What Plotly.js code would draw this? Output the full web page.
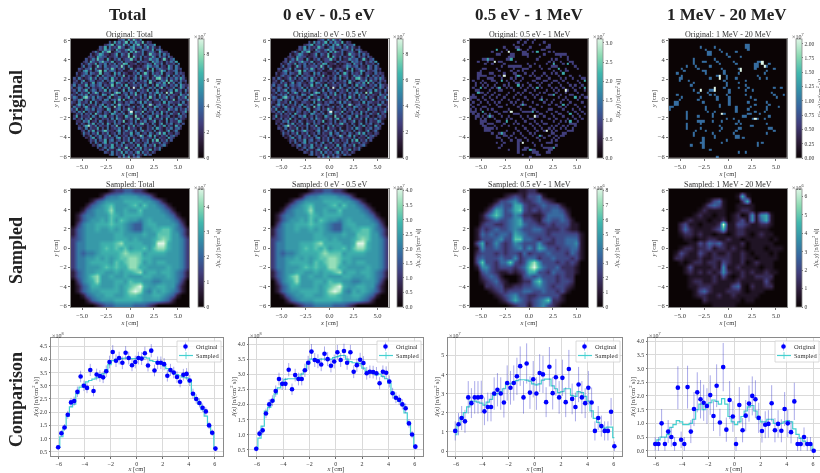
<!DOCTYPE html>
<html><head><meta charset="utf-8">
<script src="https://cdn.plot.ly/plotly-3.0.1.min.js"></script>
<style>html,body{margin:0;padding:0;background:#fff;overflow:hidden}#chart{filter:blur(0.45px)}</style></head>
<body><div id="chart" style="width:820px;height:473px"></div>
<script>
const columnTitles = ["Total","0 eV - 0.5 eV","0.5 eV - 1 MeV","1 MeV - 20 MeV"];
const rowTitles = ["Original","Sampled","Comparison"];
const binCenters = [-6.05,-5.80,-5.56,-5.31,-5.06,-4.82,-4.57,-4.32,-4.07,-3.83,-3.58,-3.33,-3.09,-2.84,-2.59,-2.35,-2.10,-1.85,-1.60,-1.36,-1.11,-0.86,-0.62,-0.37,-0.12,0.12,0.37,0.62,0.86,1.11,1.36,1.60,1.85,2.10,2.35,2.59,2.84,3.09,3.33,3.58,3.83,4.07,4.32,4.57,4.82,5.06,5.31,5.56,5.80,6.05];
const coarseCenters = [-5.93,-5.43,-4.94,-4.45,-3.95,-3.46,-2.96,-2.47,-1.98,-1.48,-0.99,-0.49,0,0.49,0.99,1.48,1.98,2.47,2.96,3.46,3.95,4.45,4.94,5.43,5.93];

// Original maps: digits per cell, rows run from y=+6 to y=-6, centred in the disc
const originalTotalRows = [
"2341526324",
"315242361425326132",
"2346133252415362142335",
"32514232633124523413524213",
"1325342153224635212433251342",
"24215363123422315263241234215322",
"3123542212351432613322412533241423",
"232154331223413225163241322531423142",
"31242633152132412336231412253341262134",
"2315322413325122413321142332153423132425",
"312432513241324132651223121243153241322314",
"241331263142233421314211212354234132153142",
"32133514221342631324115123322415134322531423",
"21452313421523431231122241431325123641323412",
"3123414322613321524132113241263142325133214232",
"2134233125142332413261322415233125342135142313",
"314212352413243152314223134251241326132413242531",
"231351243122413263124231324132415231243615231423",
"321423125134221341542213241322316213425132413412",
"24132251342341322613241512332414213152342132415322",
"31243124132235141322413251321531242413613224125313",
"23142351243132514233125143214232513141221341523142",
"12413225136413223142513314251332142352413261224131",
"32134241322315412633122413262314132415231423215324",
"24312513241432135122421351322413162314235132142351",
"13245132142231441342615123241322512341423126133224",
"32142231514213322151321324313514231223151432231412",
"21352413224135132412632341121341263134222413155232",
"14231352132241532132413122413251321542312341323113",
"32512143241332154123413263212314132413221532413242",
"23142513221431324153142132143261324131524213212351",
"132413241632132154232413513241321423251314225132",
"251322314214351231422153213224134215132341213423",
"312413261321323141532132413612325132241513241321",
"2214351231421322413261231413241235132141322541",
"3132142513241531423113241325123142135132412313",
"21351324132241326124132513221321413251321523",
"32141322513141232413152321411324153213241342",
"231425132413221351242314135232141321351241",
"142313251324123141322513412314213625132132",
"3124132413251341223142132413515213241342",
"21351241322314513241321342231413221532",
"132413251341231324152313241526132413",
"3142135132241351241322134132241321",
"21341322513241322315124132512341",
"3124135213224131425132213241",
"23142213513241322413251324",
"3214132514231351423132",
"241322513241321423",
"3142513241"];
const originalTotalHot = [[20,26,9],[30,25,9],[22,40,8],[36,7,8],[32,27,7],[5,16,7],[7,24,7],[22,19,7],[9,13,6],[13,12,7],[16,37,7],[40,29,7],[27,33,7],[24,6,7],[11,21,7],[45,23,6],[18,41,7],[12,32,6],[28,18,7],[35,30,6],[6,33,6],[38,14,6]];
const totalLevels = [0,1.0,2.1,3.2,4.5,5.9,6.9,7.5,8.2,9.2];
const thermalLevels = [0,0.9,1.9,2.9,4.0,5.3,6.3,7.0,7.9,9.15];

// 0.5 eV - 1 MeV original map: "row: columns" per count level
const midOneCount = [
"0: 21 24 27","1: 20 23 26 31","2: 18 22 29 33","3: 14 19 20 25 32 33","4: 15 21 24 30 31","5: 9 13 22 23 26 33 35",
"6: 11 12 17 18 22 23 24 31 36 37 38 39 40","7: 16 17 18 24 29 38 41","8: 5 6 8 9 15 16 28 34 36 41","9: 3 7 12 13 19 33 35 38 42 43",
"10: 6 9 14 24 27 32 39 43","11: 13 16 17 18 19 20 21 25 29 34 35 36 44","12: 5 6 11 18 22 23 24 30 33 37 40 45","13: 4 12 17 20 22 27 35 38 40 41",
"14: 3 4 8 9 14 18 19 23 26 31 34 36","15: 3 4 5 6 10 12 19 21 25 27 30 32 37 42 46","16: 3 7 8 9 13 17 19 22 28 29 33 38 40 43 47 48","17: 1 5 9 10 15 18 21 26 27 31 32 35 36 39 45",
"18: 2 4 6 11 16 19 20 24 28 30 34 37 41 46","19: 2 5 7 10 14 16 22 25 29 33 38 42 44 47","20: 1 6 9 11 15 17 21 24 26 30 34 36 39 43 46","21: 2 3 8 12 13 18 23 27 32 35 37 41 44 48",
"22: 4 5 7 10 16 20 22 25 29 31 36 40 45","23: 1 6 9 12 15 19 21 26 28 33 34 38 42 43 47","24: 0 1 2 5 8 11 14 18 23 27 30 37 40 46 48 49","25: 0 3 6 9 13 16 20 24 29 32 35 39 41 45",
"26: 1 4 7 10 12 17 19 22 26 31 34 38 42 47","27: 0 3 8 11 15 18 21 23 28 33 36 41 44","28: 1 5 6 12 13 20 25 30 37 38 40 45 48","29: 0 2 4 7 9 16 21 26 27 33 34 39 43 46",
"30: 0 1 2 10 11 14 15 22 23 24 25 28 32 36 41 44 47","31: 1 3 6 8 12 18 19 20 29 30 34 37 38 45 48","32: 2 3 5 7 9 13 16 21 24 28 31 35 39 43 46","33: 2 4 6 10 15 17 22 25 26 33 36 41 44 47",
"34: 4 5 6 11 12 19 23 27 30 35 38 40 45","35: 4 5 7 8 9 14 18 20 25 28 31 32 37 42 43 44","36: 5 6 10 13 16 22 26 29 34 36 39 41 44","37: 6 7 8 9 11 19 23 27 30 33 35 38 40 43",
"38: 6 7 8 15 20 24 28 31 34 36 41 42 43","39: 9 12 13 14 18 21 25 27 34 35 39 40","40: 11 14 15 17 22 26 30 33 36 38 39","41: 11 12 16 19 23 28 31 35 37",
"42: 13 17 20 21 24 29 34 36","43: 11 14 20 26 32 33 34","44: 13 20 27 30 36","45: 12 20 23 24 31 32 33 34","46: 16 20 22 23 25 26 27 33 34","47: 20 26 27 28 32 33","48: 22 28 29","49: 25"];
const midTwoCount = ["4: 11 20","5: 28","8: 7 17","10: 35 41","12: 37","14: 39","15: 20","17: 13 48","19: 20","20: 4 12 28 48","22: 3","23: 35","24: 44","25: 30","27: 22 39","30: 5 26","31: 42","32: 8","34: 15 42","39: 13","40: 29","45: 35","46: 25"];
const midThreeCount = ["5: 16","9: 10","15: 14","21: 40","30: 17","32: 27","38: 32","43: 22"];

// 1 MeV - 20 MeV original map
const fastOneCount = [
"2: 32 33","3: 13 19 32 33","4: 15 21 33","5: 16 17 22 28","6: 16 17 24","7: 25 30","8: 10 19","9: 10 14 15 20 27 37 38","10: 10 21 28 36 37 42",
"11: 7 11 17 36 37 41","12: 5 12 22 29 36 44","13: 6 14 15 23 41","14: 3 15 23 29 40","15: 5 20 24 37","16: 4 5 17 24 28 38 41",
"17: 4 8 23 32","18: 10 24 29","19: 9 24 32","20: 23 29 33 44 47","21: 10 17 18 25 32 35","22: 12 16 25 43","23: 3 17 19 24 32 44 48",
"24: 5 13 20 25 34 45","25: 4 12 20 25 36","26: 2 3 14 25 33 41","27: 2 3 21 25 36 42","28: 0 1 15 21 28 34 41 46","29: 0 15 28 33 41",
"30: 7 16 19 28 36 40","31: 7 18 23 33 34 38","32: 7 12 18 31 32 42","33: 7 24 27 35 37 40","34: 12 13 14 18 22 29","35: 7 13 28 30 41",
"36: 7 21 34 35","37: 7 13 22 29 30 42 43","38: 11 15 21 28 44","39: 10 18 27 41","40: 10 19 28 29","41: 14 19 28 29 31","42: 14 24","43: 13 14 22 37 39",
"44: 9 14 37","45: 14","46: 17","47: 29 32","49: 20"];
const fastTwoCount = ["9: 39","10: 39","11: 40","12: 30","13: 30","15: 21","16: 21","20: 19","21: 13 19","31: 22","33: 36"];

// Sampled maps: digits per cell on a 25 x 25 grid
const sampledTotalRows = [
"0000000012233221000000000",
"0000001344555544310000000",
"0000134555566665543100000",
"0001345675556757554310000",
"0013455685565575555431000",
"0134455576566665555543100",
"0134556575765545655554310",
"0245566676654335665555420",
"1345565565654335566775431",
"1345555556655556557775531",
"2345555556665655567875542",
"2445556667866665569965542",
"2445556767675667578865542",
"2434456666787775666655542",
"2445565656778876655555542",
"2445666657678875656655542",
"2445556767668866555565542",
"1345566556566785665665431",
"1345785565565556655565431",
"0245685556657665544555420",
"0134665556567896556655310",
"0134556666568985465654310",
"0013455665567765566543100",
"0001345556666665555431000",
"0000012334444333210000000"];
const sampledTotalLevels = [0,0.7,1.3,1.9,2.4,2.85,3.2,3.6,4.1,4.7];
const sampledThermalLevels = [0,0.6,1.1,1.6,2.05,2.45,2.75,3.1,3.55,4.05];
const sampledMidRows = [
"0000000000112200000000000",
"0000000123213341000000000",
"0000013345322343210000000",
"0000134336632234333100000",
"0001365346732323344310000",
"0013575335422112444420000",
"0012343345633213433431000",
"0023322345643322323331100",
"0132343345433443222321100",
"0143434436543333233333310",
"0133345337744323323344410",
"0362353235433353223344510",
"0153343234535365332334410",
"0233323233242333433324310",
"0343334335234423343332310",
"0373324473236853332323200",
"0155323332347964334222100",
"0034321121236633243322100",
"0023431000134343332322000",
"0012342100122574332332000",
"0002233112233454323321000",
"0000123233344334332310000",
"0000012345332233333100000",
"0000001246432345722100000",
"0000000012331345321000000"];
const sampledMidLevels = [0,0.9,1.8,2.7,3.6,4.5,5.4,6.3,7.2,8.1];
const sampledFastRows = [
"0000000000000000000000000",
"0000000000000016100000000",
"0000000013410002600000000",
"0000000134310011110000000",
"0000001211110012210000000",
"0000012110110120151561000",
"0001211101120123151461000",
"0023110111291133211221000",
"0024211112361122111110000",
"0012212110110122101211000",
"0001101122112110111110100",
"0000113243421112011111000",
"0012212231221211011101110",
"0132113212112112101110100",
"0221112112222112110111100",
"0010122122132112012111000",
"0001311112151121111011000",
"0001212121252112121121100",
"0000111112131012112222000",
"0000122112111121111131000",
"0000112221111341021122000",
"0000013421112221011100000",
"0000012211211211111000000",
"0000000211111110110000000",
"0000000001111100000000000"];
const sampledFastLevels = [0,0.55,1.3,2.1,2.8,3.5,4.2,4.9,5.6,6.4];

// Comparison profiles (axis mantissa)
const origTotal = [0.67,1.2,1.42,1.9,2.37,2.42,2.77,3.35,3.0,2.92,3.6,2.8,3.43,3.37,3.32,3.55,3.9,4.28,3.95,4.05,3.87,4.25,4.05,3.78,3.9,4.05,4.03,4.23,3.77,4.33,3.58,3.87,3.87,3.82,3.38,3.6,3.5,3.33,3.15,3.42,3.45,3.2,2.7,2.5,2.35,2.17,2.03,1.5,1.22,0.62];
const errTotal = [0.09,0.12,0.13,0.15,0.17,0.17,0.2,0.22,0.2,0.2,0.23,0.2,0.22,0.22,0.22,0.22,0.24,0.26,0.24,0.24,0.24,0.25,0.24,0.23,0.24,0.24,0.24,0.25,0.23,0.25,0.22,0.24,0.24,0.23,0.22,0.23,0.22,0.22,0.21,0.22,0.22,0.21,0.19,0.18,0.17,0.16,0.16,0.14,0.12,0.09];
const sampTotal = [0.67,1.07,1.4,1.85,2.2,2.3,2.7,2.95,3.05,3.15,3.2,3.25,3.3,3.35,3.45,3.6,3.8,3.95,4.0,4.0,4.03,4.05,4.05,4.03,4.03,4.03,4.05,4.08,4.05,3.95,3.92,3.88,3.85,3.75,3.65,3.55,3.5,3.42,3.38,3.33,3.3,3.15,2.72,2.5,2.3,2.1,1.85,1.5,1.2,0.62];
const origThermal = [0.53,1.03,1.14,1.7,2.0,2.12,2.44,2.84,2.68,2.68,3.15,2.5,2.97,2.84,2.84,3.13,3.38,3.75,3.47,3.43,3.32,3.68,3.5,3.28,3.42,3.73,3.47,3.77,3.38,3.73,3.08,3.3,3.48,3.37,3.03,3.08,3.07,3.03,2.7,3.08,3.05,2.76,2.37,2.22,2.15,2.0,1.87,1.37,1.0,0.6];
const errThermal = [0.09,0.12,0.13,0.16,0.17,0.18,0.19,0.21,0.2,0.2,0.22,0.19,0.21,0.21,0.21,0.22,0.23,0.25,0.23,0.23,0.22,0.24,0.23,0.22,0.23,0.24,0.23,0.24,0.23,0.24,0.21,0.22,0.23,0.23,0.21,0.21,0.21,0.21,0.2,0.21,0.21,0.2,0.18,0.18,0.17,0.17,0.16,0.14,0.12,0.09];
const sampThermal = [0.55,0.88,1.28,1.78,1.9,2.1,2.35,2.55,2.7,2.83,2.85,2.85,2.85,2.9,3.0,3.15,3.35,3.5,3.5,3.48,3.5,3.5,3.48,3.5,3.55,3.58,3.62,3.62,3.5,3.42,3.38,3.38,3.35,3.2,3.1,3.05,3.03,2.98,3.0,2.93,2.85,2.7,2.4,2.2,2.1,2.0,1.72,1.4,1.0,0.6];
const origMid = [1.05,1.4,1.72,1.55,2.8,2.5,2.8,2.8,2.82,2.07,2.3,2.3,3.0,3.2,3.0,2.53,3.55,3.3,3.55,3.9,4.43,2.8,4.57,3.05,3.75,3.0,4.07,4.0,2.55,4.4,3.02,3.85,2.8,3.82,2.55,4.28,2.72,2.3,3.47,2.8,2.5,3.3,2.53,1.05,1.72,1.3,1.05,1.05,2.05,0.25];
const errMid = [0.5,0.58,0.63,0.6,0.85,0.78,0.85,0.85,0.85,0.72,0.75,0.75,0.85,0.87,0.85,0.78,0.92,0.88,0.92,0.97,1.03,0.85,1.05,0.85,0.95,0.85,0.98,0.97,0.78,1.03,0.85,0.96,0.85,0.95,0.78,1.0,0.8,0.75,0.92,0.85,0.78,0.88,0.78,0.5,0.63,0.55,0.5,0.5,0.72,0.25];
const sampMid = [0.85,1.35,1.75,2.0,2.3,2.6,2.6,2.55,2.5,2.4,2.55,2.7,2.9,3.0,3.1,3.25,3.5,3.5,3.6,3.68,3.72,3.72,3.7,3.65,3.5,3.45,3.5,3.7,3.75,3.75,3.4,3.25,3.05,3.1,3.25,3.25,2.9,2.85,3.1,3.05,2.85,2.6,2.1,1.7,1.5,1.3,1.2,1.25,1.25,0.7];
const origFast = [0.25,0.25,1.0,0.25,0.7,0.5,0.25,2.3,0.4,0.25,2.32,0.7,1.52,2.13,1.88,1.75,1.63,2.03,1.27,2.37,1.03,3.05,0.77,1.85,1.25,0.25,1.67,0.75,1.28,1.72,2.0,1.88,1.2,0.72,0.95,0.98,1.73,0.75,0.98,0.73,1.52,1.0,0.68,1.8,0.25,0.25,0.5,0.25,0.25,0.0];
const errFast = [0.25,0.25,0.52,0.25,0.42,0.35,0.25,0.78,0.3,0.25,0.78,0.42,0.62,0.73,0.7,0.66,0.65,0.72,0.55,0.78,0.5,0.88,0.44,0.69,0.56,0.25,0.65,0.44,0.57,0.66,0.71,0.69,0.55,0.42,0.49,0.5,0.66,0.44,0.5,0.42,0.62,0.5,0.41,0.68,0.25,0.25,0.35,0.25,0.25,0.0];
const sampFast = [0.3,0.4,0.5,0.5,0.6,0.85,0.95,1.1,1.05,0.95,0.95,1.0,1.15,1.5,1.7,1.5,1.7,1.75,1.85,1.8,1.7,1.9,1.7,1.25,1.05,0.95,1.05,1.25,1.45,1.6,1.65,1.45,1.15,1.05,1.05,1.15,1.15,1.0,0.95,1.0,1.05,1.1,1.05,0.8,0.6,0.45,0.35,0.25,0.2,0.05];

// ---- decoding helpers ----
function decodeCentred(rows, hot, levels){
  const g = rows.map(r=>{const a=new Array(50).fill(0);const p=Math.floor((50-r.length)/2);
    for(let i=0;i<r.length;i++)a[p+i]=levels[+r[i]];return a;});
  hot.forEach(h=>{g[h[0]][h[1]]=levels[h[2]];});
  return g.reverse();
}
function decodeSparse(lists){
  const g=[];for(let i=0;i<50;i++)g.push(new Array(50).fill(0));
  lists.forEach(l=>l.rows.forEach(s=>{const[r,c]=s.split(":");
    c.trim().split(/\s+/).forEach(k=>{g[+r][+k]=l.value;});}));
  return g.reverse();
}
function decodeGrid(rows, levels){
  return rows.map(r=>r.padEnd(25,"0").split("").map(d=>levels[+d])).reverse();
}
const mako=[[0,"#0B0405"],[0.143,"#2e1e3b"],[0.286,"#413d7b"],[0.429,"#37659e"],[0.571,"#348fa7"],[0.714,"#40b7ad"],[0.857,"#8bdab2"],[1,"#DEF5E5"]];

const serif="'Liberation Serif','DejaVu Serif',serif";
const W=820,H=473,ink="#333",spine="#8a8a8a",sampleColor="#45d0d0";
const fx=p=>p/W, fy=p=>1-p/H;
const colX=[[71,189],[270.5,388.5],[470,588],[669,787]];
const cbX=[198,397,597,796];
const rowY=[[39,158],[189,307]];
const cmpX=[[51,223],[249,423],[448,622],[648,820]];
const cmpY=[338,456];

const heatmaps=[
 {title:"Original: Total",z:decodeCentred(originalTotalRows,originalTotalHot,totalLevels),zmax:9.2,dtick:2,fmt:"",exp:"7",x:binCenters},
 {title:"Original: 0 eV - 0.5 eV",z:decodeCentred(originalTotalRows,originalTotalHot,thermalLevels),zmax:9.15,dtick:2,fmt:"",exp:"7",x:binCenters},
 {title:"Original: 0.5 eV - 1 MeV",z:decodeSparse([{rows:midOneCount,value:0.9},{rows:midTwoCount,value:2.06},{rows:midThreeCount,value:3.1}]),zmax:3.1,dtick:0.5,fmt:".1f",exp:"7",x:binCenters},
 {title:"Original: 1 MeV - 20 MeV",z:decodeSparse([{rows:fastOneCount,value:0.95},{rows:fastTwoCount,value:2.08}]),zmax:2.08,dtick:0.25,fmt:".2f",exp:"7",x:binCenters},
 {title:"Sampled: Total",z:decodeGrid(sampledTotalRows,sampledTotalLevels),zmax:4.7,dtick:1,fmt:"",exp:"7",x:coarseCenters,smooth:true},
 {title:"Sampled: 0 eV - 0.5 eV",z:decodeGrid(sampledTotalRows,sampledThermalLevels),zmax:4.05,dtick:0.5,fmt:".1f",exp:"7",x:coarseCenters,smooth:true},
 {title:"Sampled: 0.5 eV - 1 MeV",z:decodeGrid(sampledMidRows,sampledMidLevels),zmax:8.1,dtick:1,fmt:"",exp:"6",x:coarseCenters,smooth:true},
 {title:"Sampled: 1 MeV - 20 MeV",z:decodeGrid(sampledFastRows,sampledFastLevels),zmax:6.4,dtick:1,fmt:"",exp:"6",x:coarseCenters,smooth:true}
];
const comparisons=[
 {orig:origTotal,err:errTotal,samp:sampTotal,yr:[0.34,4.81],dtick:0.5,fmt:".1f",exp:"8",legendLeft:177},
 {orig:origThermal,err:errThermal,samp:sampThermal,yr:[0.29,4.2],dtick:0.5,fmt:".1f",exp:"8",legendLeft:377},
 {orig:origMid,err:errMid,samp:sampMid,yr:[-0.26,5.9],dtick:1,fmt:"",exp:"7",legendLeft:576},
 {orig:origFast,err:errFast,samp:sampFast,yr:[-0.19,4.11],dtick:0.5,fmt:".1f",exp:"7",legendLeft:775}
];

const data=[];
const layout={width:W,height:H,autosize:false,margin:{l:0,r:0,t:0,b:0,pad:0,autoexpand:false},paper_bgcolor:"#fff",plot_bgcolor:"#fff",
  font:{family:serif,size:6,color:ink},showlegend:false,annotations:[],shapes:[]};
const tickFont={family:serif,size:6.5,color:ink};
const cbTickFont={family:serif,size:5.5,color:ink};
const ann=(text,x,y,size,extra)=>layout.annotations.push(Object.assign({text,xref:"paper",yref:"paper",x:fx(x),y:fy(y),showarrow:false,xanchor:"center",yanchor:"middle",font:{family:serif,size,color:ink}},extra||{}));
const shape=(type,x0,y0,x1,y1,style)=>layout.shapes.push(Object.assign({type,xref:"paper",yref:"paper",x0:fx(x0),x1:fx(x1),y0:fy(y0),y1:fy(y1),layer:"above"},style));

heatmaps.forEach((h,i)=>{
  const n=i+1,col=i%4,row=Math.floor(i/4);
  const X=colX[col],Y=rowY[row];
  layout["xaxis"+n]={domain:[fx(X[0]),fx(X[1])],anchor:"y"+n,range:[-6.15,6.15],tick0:0,dtick:2.5,tickformat:".1f",ticks:"outside",ticklen:2,tickwidth:0.7,tickcolor:ink,tickfont:tickFont,showgrid:false,zeroline:false,showline:true,linecolor:spine,linewidth:1,mirror:true,
    title:{text:"<i>x</i> [cm]",font:{family:serif,size:6.5,color:ink},standoff:1},automargin:false};
  layout["yaxis"+n]={domain:[fy(Y[1]),fy(Y[0])],anchor:"x"+n,range:[-6.15,6.15],tick0:0,dtick:2,ticks:"outside",ticklen:2,tickwidth:0.7,tickcolor:ink,tickfont:tickFont,showgrid:false,zeroline:false,showline:true,linecolor:spine,linewidth:1,mirror:true,
    title:{text:"<i>y</i> [cm]",font:{family:serif,size:6.5,color:ink},standoff:0},automargin:false};
  data.push({type:"heatmap",xaxis:"x"+n,yaxis:"y"+n,x:h.x,y:h.x,z:h.z,zmin:0,zmax:h.zmax,colorscale:mako,zsmooth:h.smooth?"best":false,showlegend:false,hoverinfo:"skip",
    colorbar:{x:fx(cbX[col]),xanchor:"left",xpad:0,ypad:0,y:fy((Y[0]+Y[1])/2),yanchor:"middle",len:(Y[1]-Y[0])/H,lenmode:"fraction",thickness:6,thicknessmode:"pixels",outlinecolor:spine,outlinewidth:0.8,
      tick0:0,dtick:h.dtick,tickformat:h.fmt,ticks:"outside",ticklen:1.5,tickwidth:0.7,tickcolor:ink,tickfont:cbTickFont,
      title:{text:"<i>J(x, y)</i> [n/(cm<sup>2</sup> s)]",side:"right",font:{family:serif,size:5.5,color:ink}}}});
  ann(h.title,(X[0]+X[1])/2,Y[0]-4.5,8);
  ann("×10<sup>"+h.exp+"</sup>",cbX[col]-6,Y[0]-2.5,6,{xanchor:"left"});
});

comparisons.forEach((c,i)=>{
  const n=9+i,X=cmpX[i];
  const axisCommon={ticks:"outside",ticklen:1.5,tickwidth:0.7,tickcolor:ink,tickfont:Object.assign({},tickFont,{size:6}),showgrid:true,gridcolor:"#dadada",gridwidth:1,zeroline:false,showline:true,linecolor:spine,linewidth:1,mirror:true,automargin:false};
  layout["xaxis"+n]=Object.assign({domain:[fx(X[0]),fx(X[1])],anchor:"y"+n,range:[-6.6,i==3?6.53:6.63],tick0:0,dtick:2,
    title:{text:"<i>x</i> [cm]",font:{family:serif,size:6.5,color:ink},standoff:10}},axisCommon);
  layout["yaxis"+n]=Object.assign({domain:[fy(cmpY[1]),fy(cmpY[0])],anchor:"x"+n,range:c.yr,tick0:0,dtick:c.dtick,tickformat:c.fmt,
    title:{text:"<i>J(x)</i> [n/(cm<sup>2</sup> s)]",font:{family:serif,size:6.5,color:ink},standoff:0}},axisCommon);
  data.push({type:"scatter",xaxis:"x"+n,yaxis:"y"+n,x:binCenters,y:c.samp,mode:"lines",name:"Sampled",line:{color:sampleColor,width:1.2,shape:"hvh"},showlegend:false,hoverinfo:"skip"});
  data.push({type:"scatter",xaxis:"x"+n,yaxis:"y"+n,x:binCenters,y:c.orig,mode:"markers",name:"Original",showlegend:false,
    marker:{color:"#0000ff",size:4.6,symbol:"circle"},error_y:{type:"data",array:c.err,visible:true,color:"rgba(40,40,200,0.4)",thickness:1,width:0},hoverinfo:"skip"});
  ann("×10<sup>"+c.exp+"</sup>",X[0]-1,cmpY[0]-3,6,{xanchor:"left"});
  // legend box
  const L=c.legendLeft,T=341;
  shape("rect",L,T,L+44,T+21,{fillcolor:"rgba(255,255,255,0.8)",line:{color:"#d0d0d0",width:0.8}});
  shape("line",L+8.5,T+1.5,L+8.5,T+9.5,{line:{color:"rgba(40,40,200,0.4)",width:1}});
  shape("circle",L+6.2,T+3.2,L+10.8,T+7.8,{fillcolor:"#0000ff",line:{width:0}});
  shape("line",L+2,T+14.5,L+16,T+14.5,{line:{color:sampleColor,width:1.2}});
  shape("line",L+9,T+11,L+9,T+18,{line:{color:sampleColor,width:0.8}});
  ann("Original",L+30,T+5.5,6.5);
  ann("Sampled",L+30,T+14.5,6.5);
});

const colCenters=[127,329,529,727];
columnTitles.forEach((t,i)=>ann("<b>"+t+"</b>",colCenters[i],14,17,{font:{family:serif,size:17,color:"#222"}}));
const rowCenters=[103,251,400];
rowTitles.forEach((t,i)=>ann("<b>"+t+"</b>",16,rowCenters[i],18,{textangle:-90,font:{family:serif,size:18,color:"#222"}}));

Plotly.newPlot("chart",data,layout,{displayModeBar:false,staticPlot:true});
</script></body></html>
